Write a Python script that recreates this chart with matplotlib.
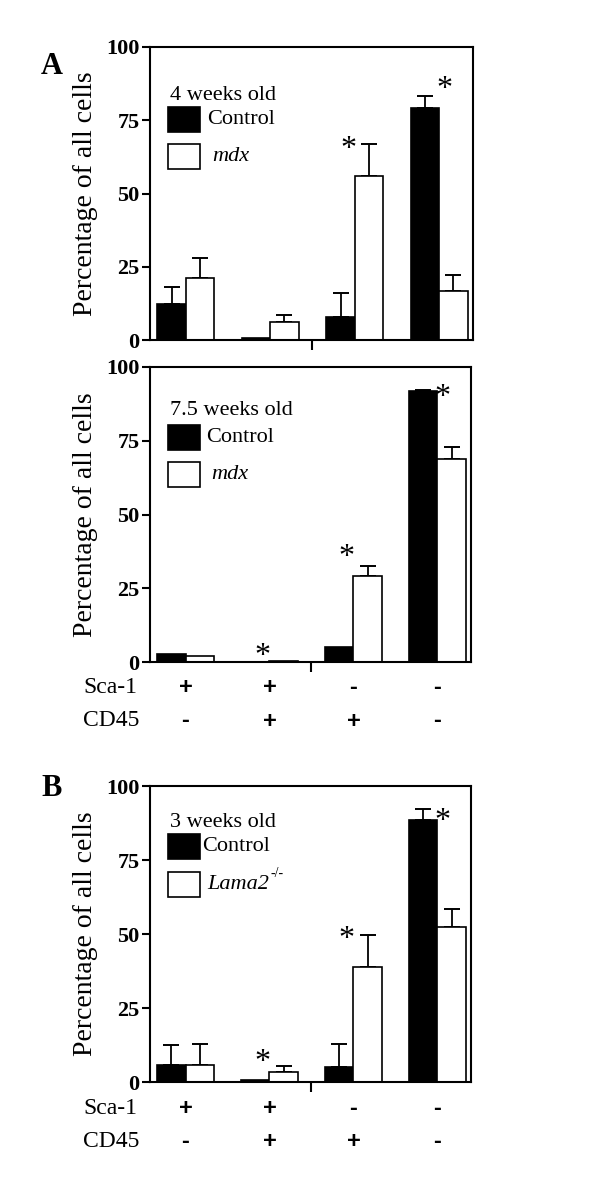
#!/usr/bin/env python3
"""Sca-1 / CD45 cell fractions in control vs dystrophic muscle (3 panels)."""

import numpy as np
import matplotlib.pyplot as plt
from matplotlib.patches import Rectangle
from matplotlib.transforms import blended_transform_factory

plt.rcParams["font.family"] = ["Liberation Serif", "DejaVu Serif"]
plt.rcParams["mathtext.fontset"] = "custom"
plt.rcParams["mathtext.rm"] = "Liberation Serif"
plt.rcParams["mathtext.it"] = "Liberation Serif:italic"

# ── data ─────────────────────────────────────────────────────────────
SCA1 = ["+", "+", "-", "-"]
CD45 = ["-", "+", "+", "-"]

# panel A, 4 weeks
ctrl_4w = [12.2, 0.8, 7.7, 79.2]
ctrl_4w_err = [6.0, 0.0, 8.2, 4.0]
mdx_4w = [21.0, 6.3, 56.0, 16.7]
mdx_4w_err = [7.1, 2.2, 11.0, 5.6]
stars_4w = [(2, 68.5), (3, 89.0)]

# panel A, 7.5 weeks
ctrl_75w = [2.6, 0.1, 5.1, 91.9]
ctrl_75w_err = [0.0, 0.0, 0.0, 0.3]
mdx_75w = [1.9, 0.5, 29.0, 68.7]
mdx_75w_err = [0.0, 0.0, 3.4, 4.1]
stars_75w = [(1, 5.6), (2, 39.0), (3, 93.2)]

# panel B, 3 weeks
ctrl_3w = [5.6, 0.6, 5.0, 88.5]
ctrl_3w_err = [6.8, 0.0, 8.0, 3.7]
lama_3w = [5.6, 3.4, 38.8, 52.2]
lama_3w_err = [7.4, 1.9, 11.0, 6.1]
stars_3w = [(1, 10.0), (2, 51.7), (3, 91.5)]

# ── layout ───────────────────────────────────────────────────────────
W, H = 600, 1197
BAR_W = 0.336
TXT = 16

PANELS = [
    dict(box=(150, 47, 473, 340), age="4 weeks old", mut="mdx", sup=None,
         ctrl=ctrl_4w, ctrl_err=ctrl_4w_err, mut_v=mdx_4w, mut_err=mdx_4w_err,
         stars=stars_4w, leg_title=0.819, leg_box=(0.710, 0.584),
         ctrl_x=0.176, mut_x=0.192, signs=False),
    dict(box=(150, 367, 471, 662), age="7.5 weeks old", mut="mdx", sup=None,
         ctrl=ctrl_75w, ctrl_err=ctrl_75w_err, mut_v=mdx_75w, mut_err=mdx_75w_err,
         stars=stars_75w, leg_title=0.837, leg_box=(0.719, 0.593),
         ctrl_x=0.176, mut_x=0.192, signs=True),
    dict(box=(150, 786, 471, 1082), age="3 weeks old", mut="Lama2", sup="-/-",
         ctrl=ctrl_3w, ctrl_err=ctrl_3w_err, mut_v=lama_3w, mut_err=lama_3w_err,
         stars=stars_3w, leg_title=0.861, leg_box=(0.753, 0.625),
         ctrl_x=0.162, mut_x=0.178, signs=True),
]

fig = plt.figure(figsize=(W / 100, H / 100), dpi=100)

for p in PANELS:
    l, t, r, b = p["box"]
    ax = fig.add_axes([l / W, 1 - b / H, (r - l) / W, (b - t) / H])
    x = np.arange(len(SCA1))

    ax.bar(x - BAR_W, p["ctrl"], BAR_W, align="edge", color="black",
           edgecolor="black", lw=1.2, zorder=2)
    ax.bar(x, p["mut_v"], BAR_W, align="edge", color="white",
           edgecolor="black", lw=1.2, zorder=2)

    # upper-only error bars
    for xs, vals, errs in [(x - BAR_W / 2, p["ctrl"], p["ctrl_err"]),
                           (x + BAR_W / 2, p["mut_v"], p["mut_err"])]:
        for xi, v, e in zip(xs, vals, errs):
            if e > 0:
                ax.errorbar(xi, v, yerr=[[0], [e]], fmt="none", ecolor="black",
                            elinewidth=1.3, capsize=6, capthick=1.4, zorder=1)

    for gi, ys in p["stars"]:
        off = 0.06 if gi == 3 else -0.08
        ax.annotate("*", xy=(gi + off, ys), xytext=(0, -13),
                    textcoords="offset points", ha="center", va="baseline",
                    fontsize=23)

    ax.set_xlim(-0.423, 3.40)
    ax.set_ylim(0, 100)
    ax.set_yticks([0, 25, 50, 75, 100])
    ax.set_xticks([1.5])
    ax.set_xticklabels([])
    for lab in ax.get_yticklabels():
        lab.set_fontweight("bold")
        lab.set_fontsize(16)
    ax.tick_params(axis="y", direction="out", length=6, width=1.5, pad=1.5)
    ax.tick_params(axis="x", direction="out", length=7, width=1.5)
    for sp in ax.spines.values():
        sp.set_linewidth(1.5)
    ax.set_ylabel("Percentage of all cells", fontsize=20, labelpad=6)

    # hand-made legend
    ax.text(0.062, p["leg_title"], p["age"], transform=ax.transAxes,
            fontsize=TXT, ha="left", va="baseline")
    bw, bh = 0.099, 0.085
    y_ctrl, y_mut = p["leg_box"]
    ax.add_patch(Rectangle((0.056, y_ctrl), bw, bh, transform=ax.transAxes,
                           facecolor="black", edgecolor="black", lw=1.2))
    ax.add_patch(Rectangle((0.056, y_mut), bw, bh, transform=ax.transAxes,
                           facecolor="white", edgecolor="black", lw=1.2))
    ax.text(p["ctrl_x"], y_ctrl + bh / 2, "Control", transform=ax.transAxes,
            fontsize=TXT, ha="left", va="center")
    mt = ax.text(p["mut_x"], y_mut + bh / 2, p["mut"], transform=ax.transAxes,
                 fontsize=TXT, style="italic", ha="left", va="center")
    if p["sup"]:
        ax.annotate(p["sup"], xy=(1.0, 0.75), xycoords=mt, xytext=(1, 0),
                    textcoords="offset points", fontsize=10, ha="left",
                    va="bottom")

    if p["signs"]:
        tr = blended_transform_factory(ax.transData, ax.transAxes)
        ax.text(-0.209, -0.088, "Sca-1", transform=ax.transAxes,
                fontsize=17, ha="left", va="center")
        ax.text(-0.209, -0.200, "CD45", transform=ax.transAxes,
                fontsize=17, ha="left", va="center")
        for xi, s1, c4 in zip(x, SCA1, CD45):
            ax.text(xi, -0.088, s1, transform=tr, fontsize=17,
                    family="Liberation Sans", fontweight="bold",
                    ha="center", va="center")
            ax.text(xi, -0.200, c4, transform=tr, fontsize=17,
                    family="Liberation Sans", fontweight="bold",
                    ha="center", va="center")

fig.text(52 / W, 1 - 66 / H, "A", fontsize=22, fontweight="bold",
         ha="center", va="center")
fig.text(52 / W, 1 - 789 / H, "B", fontsize=22, fontweight="bold",
         ha="center", va="center")

fig.savefig("out.png", dpi=100, facecolor="white")
